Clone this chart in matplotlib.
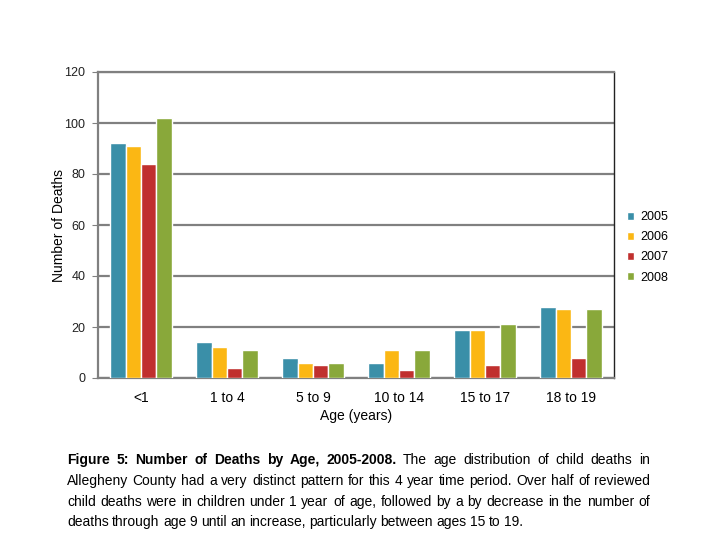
import matplotlib.pyplot as plt
import numpy as np

plt.rcParams['font.family'] = ['Liberation Sans', 'DejaVu Sans']

ages = ['<1', '1 to 4', '5 to 9', '10 to 14', '15 to 17', '18 to 19']
years = ['2005', '2006', '2007', '2008']
d2005 = [92, 14, 8, 6, 19, 28]
d2006 = [91, 12, 6, 11, 19, 27]
d2007 = [84, 4, 5, 3, 5, 8]
d2008 = [102, 11, 6, 11, 21, 27]
colors = ['#3a8fa8', '#fbb714', '#c0302e', '#89a83a']

fig = plt.figure(figsize=(7.2, 5.4), dpi=100)
ax = fig.add_axes([98/720, 1-378/540, (614-98)/720, (378-72)/540])

x = np.arange(len(ages))
w = 0.18
for i, (vals, c, yr) in enumerate(zip([d2005, d2006, d2007, d2008], colors, years)):
    ax.bar(x + (i - 1.5)*w, vals, w, color=c, edgecolor='white', linewidth=1, label=yr, zorder=3)

ax.set_xlim(-0.5, len(ages)-0.5)
ax.set_ylim(0, 120)
ax.set_yticks(range(0, 121, 20))
ax.yaxis.grid(True, color='#808080', linewidth=1.6, zorder=0)
ax.set_axisbelow(True)
for s in ['left', 'bottom', 'top']:
    ax.spines[s].set_color('#808080')
    ax.spines[s].set_linewidth(1.6)
ax.spines['right'].set_color('#222222')
ax.spines['right'].set_linewidth(1)
ax.set_xticks(x)
ax.set_xticklabels(ages, fontsize=10)
ax.tick_params(axis='x', length=0, pad=9)
ax.tick_params(axis='y', length=4, color='#808080', labelsize=9, pad=5, colors='#222222')
ax.set_xlabel('Age (years)', fontsize=10, labelpad=3)
ax.set_ylabel('Number of Deaths', fontsize=10, labelpad=-1)

fig.legend(loc='center left', bbox_to_anchor=(0.855, 0.542), frameon=False,
           handlelength=0.6, handleheight=0.6, handletextpad=0.5, labelspacing=0.65,
           fontsize=9)

# caption, justified word by word
lines = [
    [('Figure 5: Number of Deaths by Age, 2005-2008.', 'bold'),
     ('The age distribution of child deaths in', 'normal')],
    [('Allegheny County had a very distinct pattern for this 4 year time period. Over half of reviewed', 'normal')],
    [('child deaths were in children under 1 year of age, followed by a by decrease in the number of', 'normal')],
    [('deaths through age 9 until an increase, particularly between ages 15 to 19.', 'normal')],
]
x0, x1 = 67, 650
baselines = [464, 485, 506, 526]
fig.canvas.draw()
r = fig.canvas.get_renderer()
for li, (parts, yb) in enumerate(zip(lines, baselines)):
    words = []
    for txt, wt in parts:
        for wd in txt.split(' '):
            words.append((wd, wt))
    items = []
    for wd, wt in words:
        t = fig.text(0, 1 - yb/540, wd, fontsize=10, fontweight=wt, va='baseline', ha='left')
        items.append((t, t.get_window_extent(r).width))
    total = sum(wdt for _, wdt in items)
    if li < len(lines) - 1:
        gap = (x1 - x0 - total) / (len(items) - 1)
    else:
        gap = 3.5
    cx = x0
    for t, wdt in items:
        t.set_x(cx/720)
        cx += wdt + gap

fig.savefig('out.png', dpi=100)
